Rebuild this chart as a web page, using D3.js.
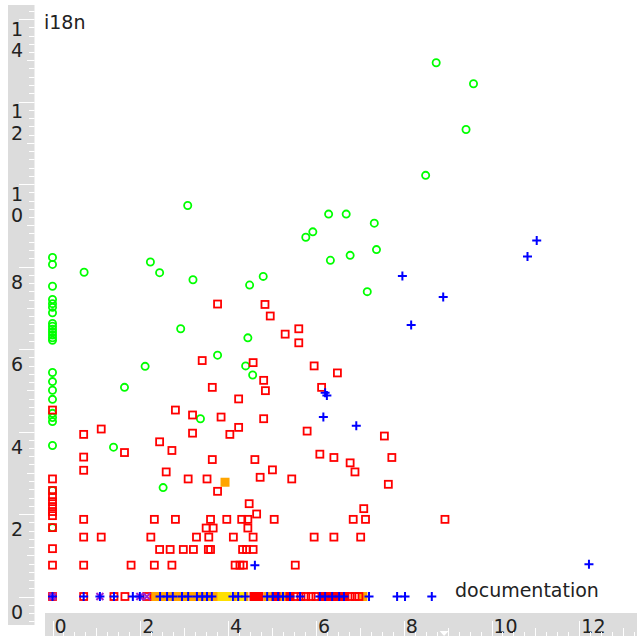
<!DOCTYPE html>
<html><head><meta charset="utf-8">
<script src="https://cdn.jsdelivr.net/npm/d3@7"></script>
<style>html,body{margin:0;padding:0;background:#fff;overflow:hidden}
.vt{writing-mode:vertical-rl;text-orientation:upright;letter-spacing:-0.5px}</style>
</head><body>
<svg id="c" width="637" height="636"></svg>
<script>
const xLabel = "documentation";
const yLabel = "i18n";
const xTickValues = [0, 2, 4, 6, 8, 10, 12];
const yTickValues = [0, 2, 4, 6, 8, 10, 12, 14];
const xMarkerValue = 8.92;

// green circles
const greenCircles = [
  [0,8.22],[0,8.05],[0,7.52],[0,7.20],[0,7.10],[0,7.01],[0,6.88],[0,6.62],[0,6.55],[0,6.48],[0,6.41],[0,6.34],[0,6.27],[0,6.21],
  [0,5.43],[0,5.21],[0,5.00],[0,4.78],[0,4.44],[0,4.34],[0,4.24],[0,3.66],[0,2.57],[0,1.67],
  [0.72,7.86],[8.74,12.94],[9.59,12.43],[9.42,11.32],[8.50,10.21],[3.08,9.48],[6.29,9.27],[6.69,9.27],[7.33,9.05],
  [5.77,8.71],[5.93,8.84],[2.23,8.11],[2.44,7.85],[3.20,7.68],[4.80,7.76],[4.49,7.55],[6.33,8.15],[6.78,8.27],[7.38,8.41],
  [7.17,7.39],[2.92,6.49],[3.76,5.85],[2.11,5.58],[1.64,5.07],[3.37,4.31],[1.39,3.62],[2.52,2.64],[4.45,6.27],[4.40,5.59],[4.56,5.37]
];

// red open squares
const redSquares = [
  [0,4.52],[0,2.85],[0,2.57],[0,2.42],[0,2.30],[0,2.18],[0,2.06],[0,1.96],[0,1.67],[0,1.16],[0,0.76],
  [3.76,7.09],[4.84,7.08],[4.96,6.80],[5.61,6.49],[5.30,6.36],[5.61,6.15],[3.41,5.72],[4.57,5.67],[5.96,5.59],[6.49,5.42],
  [4.81,5.24],[3.64,5.07],[4.85,4.99],[6.13,5.07],[4.24,4.79],[2.80,4.52],[3.19,4.40],[3.84,4.35],[4.81,4.31],[1.11,4.06],
  [0.71,3.93],[3.19,3.96],[4.04,3.93],[4.24,4.10],[5.80,4.01],[7.56,3.89],[2.44,3.75],[2.72,3.54],[1.64,3.49],[0.71,3.38],
  [3.64,3.32],[4.61,3.32],[6.09,3.45],[6.41,3.37],[6.78,3.24],[6.89,3.02],[7.73,3.37],[0.71,3.06],[2.59,3.02],[5.01,3.07],
  [3.09,2.85],[3.52,2.85],[4.73,2.89],[5.45,2.85],[7.65,2.72],[3.76,2.55],[4.48,2.25],[4.65,2.00],[7.09,2.13],[8.94,1.87],
  [0.71,1.87],[2.32,1.87],[2.80,1.87],[3.60,1.87],[3.97,1.87],[4.31,1.87],[4.45,1.87],[5.05,1.87],[6.85,1.87],[7.13,1.87],
  [3.50,1.66],[3.66,1.66],[4.45,1.66],
  [0.71,1.44],[1.11,1.44],[2.24,1.44],[3.28,1.44],[3.56,1.44],[4.12,1.44],[4.57,1.44],[5.96,1.44],[6.41,1.44],[7.02,1.44],
  [2.44,1.14],[2.68,1.14],[2.98,1.14],[3.21,1.14],[3.55,1.14],[3.60,1.14],[4.33,1.14],[4.42,1.14],[4.57,1.14],
  [0.71,0.76],[1.79,0.76],[2.32,0.76],[2.72,0.76],[4.16,0.76],[4.27,0.76],[4.35,0.76],[5.53,0.76],
  [0,0],[0.71,0],[1.40,0],[1.65,0],[2.15,0],[5.55,0],[5.66,0],[5.77,0],[5.89,0],[6.00,0],[6.78,0],[6.89,0],[6.98,0]
];

// blue plus marks
const bluePlus = [
  [7.97,7.77],[8.90,7.26],[11.03,8.63],[10.82,8.24],[8.17,6.58],[6.21,4.94],[6.25,4.87],[6.17,4.35],[6.92,4.14],[4.61,0.76],[12.22,0.78],
  [0,0],[0.71,0],[1.08,0],[1.40,0],[1.83,0],[1.99,0],[2.45,0],[2.61,0],[2.74,0],[2.95,0],[3.09,0],[3.29,0],[3.41,0],[3.52,0],[3.63,0],
  [4.11,0],[4.23,0],[4.39,0],[4.89,0],[5.02,0],[5.14,0],[5.25,0],[5.41,0],[5.64,0],[6.09,0],[6.21,0],[6.37,0],[6.53,0],[6.64,0],
  [7.21,0],[7.85,0],[8.03,0],[8.64,0]
];

// overlapping marks (blended colours)
const purpleCross = [[0,0],[1.08,0],[1.99,0],[2.15,0]];
const orangeFill = [[3.93,2.77],[2.31,0],[2.45,0],[2.59,0],[2.72,0],[2.86,0],[3.00,0],[3.13,0],[3.27,0],[3.41,0],[3.54,0],[3.68,0],
  [4.23,0],[4.36,0],[4.91,0],[5.27,0],[7.07,0]];
const yellowFill = [[3.86,0],[3.98,0],[4.29,0]];
const redFill = [[4.59,0],[4.70,0],[5.09,0],[5.41,0],[6.14,0],[6.28,0],[6.41,0],[6.55,0],[6.66,0]];

const svg = d3.select("#c");
const x = d3.scaleLinear().domain([0, 12]).range([52.5, 52.5 + 12 * 43.9]);
const y = d3.scaleLinear().domain([0, 14]).range([596.5, 596.5 - 14 * 41.25]);
const FONT = "DejaVu Sans, sans-serif";
const STRIP = "#dcdcdc";

// axis strips
svg.append("rect").attr("x", 8).attr("y", 5).attr("width", 26.5).attr("height", 620).attr("fill", STRIP);
svg.append("rect").attr("x", 45).attr("y", 613).attr("width", 592).attr("height", 23).attr("fill", STRIP);

// y labels (single digits horizontal, multi-digit stacked vertically)
yTickValues.forEach(v => {
  const s = String(v);
  const t = svg.append("text").attr("font-family", FONT).attr("font-size", 19).attr("fill", "#222");
  if (s.length === 1) {
    t.attr("text-anchor", "middle").attr("x", 17).attr("y", y(v) + 22).text(s);
  } else {
    t.attr("class", "vt").attr("x", 17).attr("y", y(v) - 1.5).text(s);
  }
});
// x labels
xTickValues.forEach(v => {
  svg.append("text").attr("font-family", FONT).attr("font-size", 19).attr("fill", "#222")
    .attr("x", x(v) + 2).attr("y", 633).text(String(v));
});

// y ruler ticks
const yr = svg.append("g").attr("stroke", "#fff").attr("stroke-width", 1);
for (let i = -3; i <= 72; i++) {
  const v = i / 5, py = Math.round(y(v)) + 0.5;
  if (py < 6 || py > 624) continue;
  const x1 = i % 10 === 0 ? 19 : (i % 5 === 0 ? 27 : 29);
  yr.append("line").attr("x1", x1).attr("x2", 34.5).attr("y1", py).attr("y2", py);
}
// x ruler ticks
const xr = svg.append("g").attr("stroke", "#fff").attr("stroke-width", 1);
for (let i = -1; i <= 56; i++) {
  const v = i / 4, px = Math.round(x(v)) + 0.5;
  if (px < 46 || px > 636) continue;
  const y1 = i % 8 === 0 ? 621 : (i % 4 === 0 ? 628 : 632);
  xr.append("line").attr("x1", px).attr("x2", px).attr("y1", y1).attr("y2", 636);
}
// marker triangle
const mx = x(xMarkerValue);
svg.append("path").attr("d", `M${mx-4.5},631L${mx+4.5},631L${mx},636Z`).attr("fill", "#fff");

// axis titles
svg.append("text").attr("font-family", FONT).attr("font-size", 19).attr("fill", "#222")
  .attr("x", 44).attr("y", 29).text(yLabel);
svg.append("text").attr("font-family", FONT).attr("font-size", 19).attr("fill", "#222")
  .attr("x", 455).attr("y", 597).text(xLabel);

// filled overlap squares
function filled(data, color) {
  svg.append("g").selectAll("rect").data(data).join("rect")
    .attr("x", d => x(d[0]) - 4.5).attr("y", d => y(d[1]) - 4.5)
    .attr("width", 9).attr("height", 9).attr("fill", color);
}
filled(orangeFill, "#ffa500");
filled(yellowFill, "#ffe000");
filled(redFill, "#ff0000");

// green circles
svg.append("g").selectAll("circle").data(greenCircles).join("circle")
  .attr("cx", d => x(d[0])).attr("cy", d => y(d[1])).attr("r", 3.6)
  .attr("fill", "none").attr("stroke", "#00ff00").attr("stroke-width", 1.8);

// red squares
svg.append("g").selectAll("rect").data(redSquares).join("rect")
  .attr("x", d => x(d[0]) - 3.5).attr("y", d => y(d[1]) - 3.5)
  .attr("width", 7).attr("height", 7)
  .attr("fill", "none").attr("stroke", "#ff0000").attr("stroke-width", 1.8);

// purple crosses
svg.append("g").selectAll("path").data(purpleCross).join("path")
  .attr("d", d => { const cx = x(d[0]), cy = y(d[1]); return `M${cx-3.5},${cy-3.5}L${cx+3.5},${cy+3.5}M${cx-3.5},${cy+3.5}L${cx+3.5},${cy-3.5}`; })
  .attr("stroke", "#a020d0").attr("stroke-width", 2);

// blue plus
svg.append("g").selectAll("path").data(bluePlus).join("path")
  .attr("d", d => { const cx = x(d[0]), cy = y(d[1]); return `M${cx-4.5},${cy}H${cx+4.5}M${cx},${cy-4.5}V${cy+4.5}`; })
  .attr("stroke", "#0000ff").attr("stroke-width", 2);
</script>
</body></html>
